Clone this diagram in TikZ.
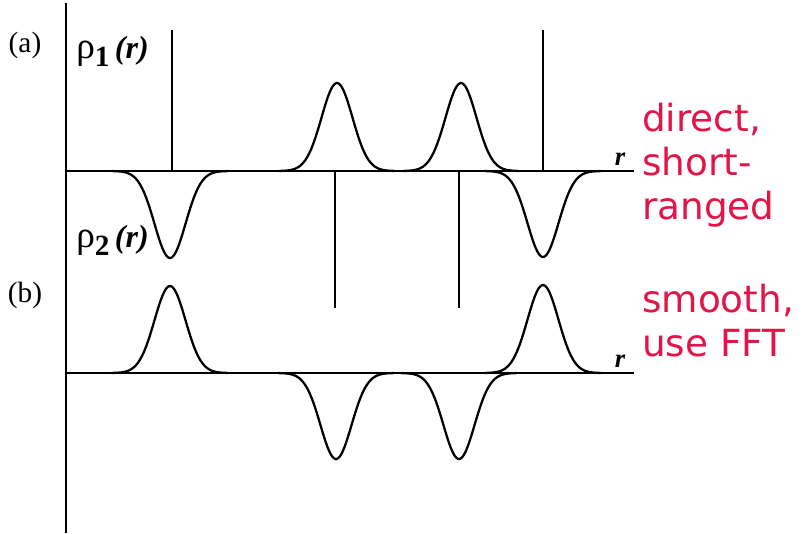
\documentclass[tikz,border=0pt]{standalone}
\usepackage{amsmath,amssymb}
\usepackage{fontspec}
\setmainfont{Liberation Serif}
\newfontfamily\labelfont{Liberation Serif}
\newfontfamily\notefont{DejaVu Sans}
\usepackage{tikz}
\usetikzlibrary{positioning,calc}
\usepackage{xcolor}
\definecolor{notered}{RGB}{226,20,72}

\tikzset{
  curve/.style={line width=1.7pt,line join=round},
  note/.style={text=notered,font=\notefont\fontsize{28}{33}\selectfont,align=left,inner sep=0pt,anchor=north west},
  panel/.style={font=\labelfont\fontsize{22}{24}\selectfont,inner sep=0pt},
  rlabel/.style={font=\labelfont\fontsize{20}{24}\selectfont\bfseries\itshape,inner sep=0pt}
}
\newcommand{\rhoof}[1]{\labelfont{\fontsize{28}{30}\selectfont ρ}\raisebox{-6pt}{\fontsize{22}{24}\selectfont\bfseries #1}\hspace{4pt}{\fontsize{24}{26}\selectfont\bfseries\itshape (r)}}

\begin{document}
\begin{tikzpicture}[x=0.75pt,y=-0.75pt]
\useasboundingbox (0,0) rectangle (803,533);
% axes
\draw[curve] (66,3) -- (66,533);
\foreach \y in {171,373}{
  \draw[curve] (66,\y) -- (634,\y);
}
% gaussians: centre/baseline/height (negative = below)
\foreach \c/\b/\h in {337/171/88,461/171/88,170/171/-87,543/171/-86,
                      170/373/87,543/373/88,336/373/-86,459/373/-86}{
  \draw[curve] plot[domain=-58:58,samples=70,smooth] ({\c+\x},{\b-\h*exp(-(\x/15.5)^2/2)});
}
% delta spikes of the point charges
\foreach \x/\ya/\yb in {172/30/171,543/30/171,335/171/308,459/171/308}{
  \draw[curve] (\x,\ya) -- (\x,\yb);
}
\node[panel] (lblA) at (25,45) {(a)};
\node[panel] (lblB) at (25,295) {(b)};
\node[inner sep=0pt,anchor=base west] (rhoA) at (76,58) {\rhoof{1}};
\node[inner sep=0pt,anchor=base west] (rhoB) at (76,247) {\rhoof{2}};
\node[rlabel] (rA) at (620,159) {r};
\node[rlabel] (rB) at (620,361) {r};
\node[note] (noteA) at (642,103) {direct,\\short-\\ranged};
\node[note] (noteB) at (642,284) {smooth,\\use FFT};
\end{tikzpicture}
\end{document}
